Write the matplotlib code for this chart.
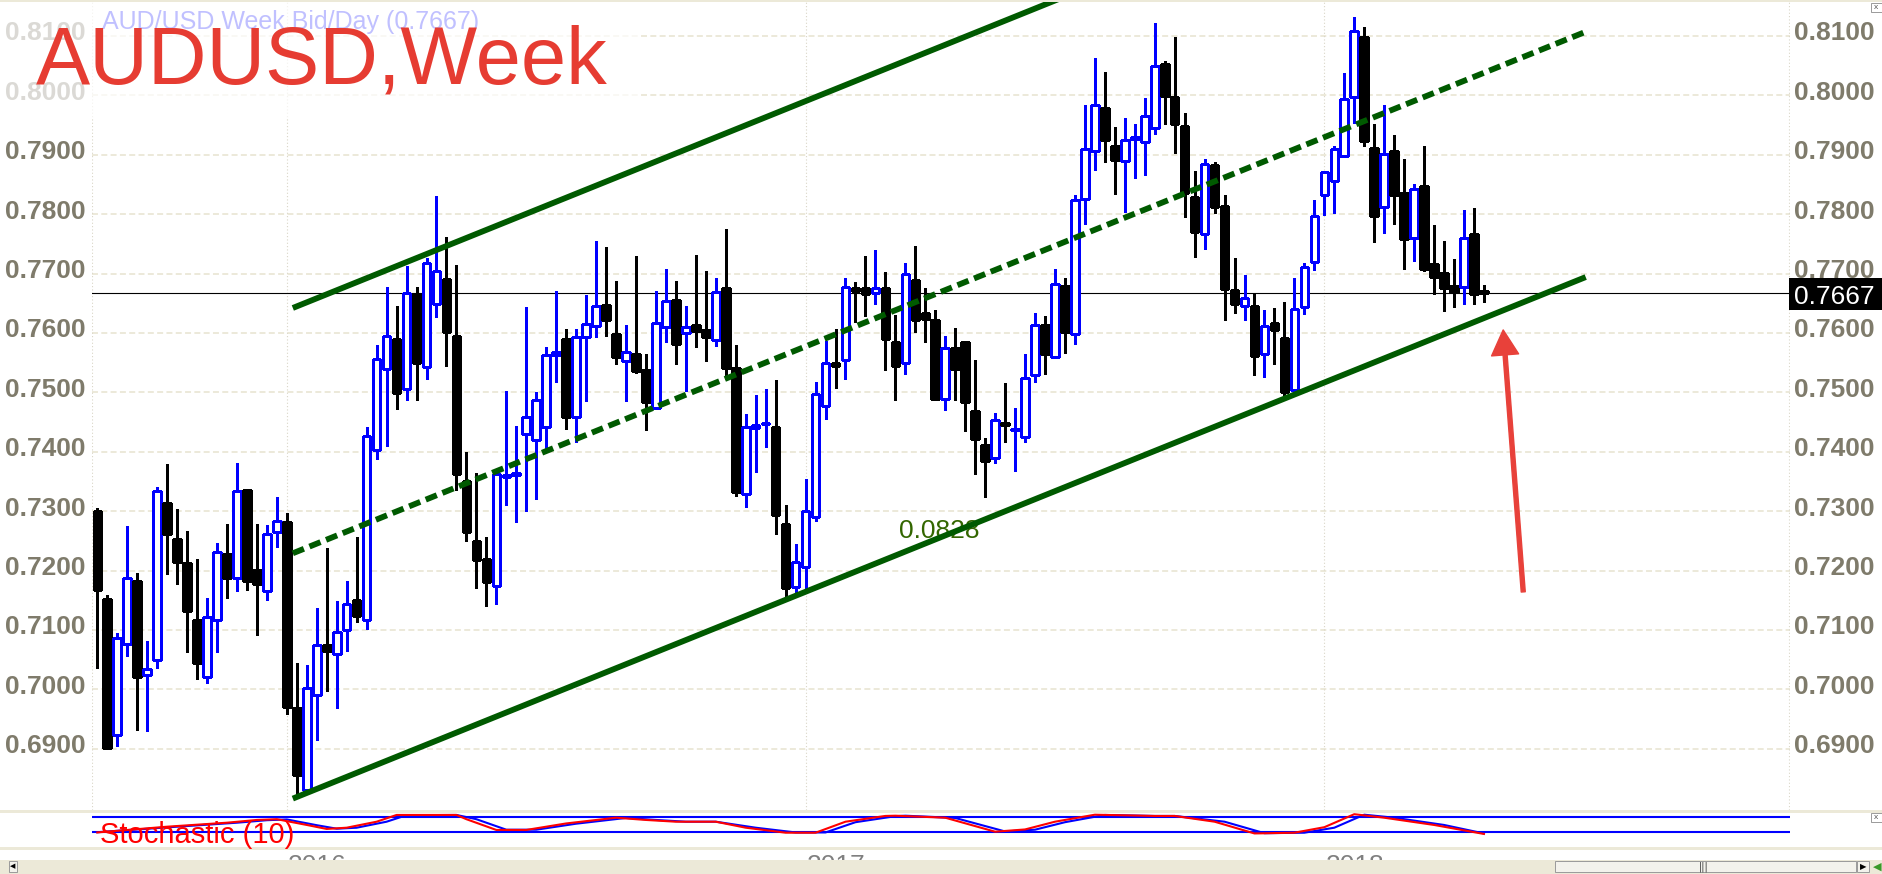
import matplotlib
matplotlib.use('Agg')
import matplotlib.pyplot as plt
import matplotlib.transforms as mtransforms
from matplotlib.patches import Rectangle

plt.rcParams['font.family'] = ['Liberation Sans', 'DejaVu Sans']
plt.rcParams['lines.scale_dashes'] = False

W, H, DPI = 1883, 874, 100

# weekly AUD/USD candles, Aug 2015 .. Apr 2018
opens = [
    0.7301, 0.7152, 0.6923, 0.7076, 0.7182, 0.7024, 0.7049, 0.7314, 0.7253, 0.7213,
    0.7117, 0.7020, 0.7117, 0.7228, 0.7187, 0.7336, 0.7201, 0.7165, 0.7265, 0.7282,
    0.6969, 0.6831, 0.6990, 0.7074, 0.7060, 0.7100, 0.7150, 0.7117, 0.7403, 0.7540,
    0.7589, 0.7506, 0.7665, 0.7543, 0.7649, 0.7690, 0.7594, 0.7351, 0.7249, 0.7220,
    0.7174, 0.7357, 0.7360, 0.7430, 0.7420, 0.7441, 0.7563, 0.7589, 0.7458, 0.7593,
    0.7612, 0.7647, 0.7599, 0.7553, 0.7565, 0.7537, 0.7474, 0.7610, 0.7656, 0.7600,
    0.7614, 0.7605, 0.7588, 0.7675, 0.7541, 0.7329, 0.7440, 0.7446, 0.7441, 0.7279,
    0.7173, 0.7206, 0.7290, 0.7477, 0.7550, 0.7554, 0.7676, 0.7676, 0.7667, 0.7676,
    0.7584, 0.7549, 0.7689, 0.7634, 0.7622, 0.7489, 0.7574, 0.7584, 0.7468, 0.7411,
    0.7389, 0.7449, 0.7437, 0.7425, 0.7529, 0.7614, 0.7560, 0.7679, 0.7599, 0.7825,
    0.7907, 0.7979, 0.7915, 0.7890, 0.7927, 0.7921, 0.7945, 0.8053, 0.7997, 0.7949,
    0.7829, 0.7767, 0.7882, 0.7814, 0.7673, 0.7646, 0.7646, 0.7564, 0.7616, 0.7591,
    0.7504, 0.7644, 0.7720, 0.7833, 0.7856, 0.7898, 0.7997, 0.8099, 0.7911, 0.7812,
    0.7907, 0.7836, 0.7760, 0.7847, 0.7716, 0.7701, 0.7679, 0.7678, 0.7767, 0.7670]
highs = [
    0.7306, 0.7159, 0.7095, 0.7275, 0.7195, 0.7082, 0.7341, 0.7379, 0.7304, 0.7267,
    0.7220, 0.7154, 0.7246, 0.7279, 0.7381, 0.7338, 0.7279, 0.7276, 0.7324, 0.7297,
    0.7045, 0.7041, 0.7137, 0.7238, 0.7148, 0.7182, 0.7256, 0.7441, 0.7579, 0.7677,
    0.7645, 0.7712, 0.7677, 0.7726, 0.7831, 0.7762, 0.7715, 0.7400, 0.7364, 0.7257,
    0.7363, 0.7502, 0.7443, 0.7643, 0.7500, 0.7577, 0.7671, 0.7606, 0.7606, 0.7663,
    0.7754, 0.7745, 0.7688, 0.7613, 0.7729, 0.7565, 0.7671, 0.7708, 0.7688, 0.7645,
    0.7732, 0.7705, 0.7693, 0.7775, 0.7579, 0.7464, 0.7495, 0.7505, 0.7521, 0.7310,
    0.7244, 0.7354, 0.7517, 0.7586, 0.7606, 0.7693, 0.7686, 0.7729, 0.7739, 0.7703,
    0.7630, 0.7717, 0.7747, 0.7676, 0.7638, 0.7594, 0.7608, 0.7584, 0.7554, 0.7423,
    0.7465, 0.7515, 0.7473, 0.7564, 0.7633, 0.7628, 0.7708, 0.7693, 0.7833, 0.7983,
    0.8063, 0.8040, 0.7946, 0.7962, 0.7952, 0.7995, 0.8122, 0.8057, 0.8099, 0.7970,
    0.7873, 0.7893, 0.7887, 0.7833, 0.7726, 0.7697, 0.7665, 0.7638, 0.7642, 0.7652,
    0.7692, 0.7717, 0.7823, 0.7871, 0.7914, 0.8037, 0.8132, 0.8115, 0.7952, 0.7984,
    0.7933, 0.7892, 0.7850, 0.7914, 0.7782, 0.7755, 0.7724, 0.7807, 0.7810, 0.7681]
lows = [
    0.7036, 0.6902, 0.6905, 0.7056, 0.6932, 0.6930, 0.7036, 0.7194, 0.7177, 0.7062,
    0.7017, 0.7010, 0.7063, 0.7153, 0.7165, 0.7168, 0.7091, 0.7150, 0.7239, 0.6958,
    0.6822, 0.6826, 0.6914, 0.6997, 0.6968, 0.7065, 0.7113, 0.7102, 0.7387, 0.7409,
    0.7472, 0.7487, 0.7487, 0.7522, 0.7626, 0.7544, 0.7335, 0.7249, 0.7171, 0.7141,
    0.7144, 0.7311, 0.7281, 0.7301, 0.7320, 0.7403, 0.7517, 0.7438, 0.7416, 0.7485,
    0.7593, 0.7595, 0.7548, 0.7485, 0.7532, 0.7436, 0.7472, 0.7585, 0.7547, 0.7502,
    0.7576, 0.7553, 0.7578, 0.7523, 0.7325, 0.7307, 0.7366, 0.7408, 0.7262, 0.7156,
    0.7162, 0.7165, 0.7283, 0.7455, 0.7508, 0.7522, 0.7618, 0.7628, 0.7648, 0.7538,
    0.7487, 0.7530, 0.7601, 0.7584, 0.7488, 0.7470, 0.7487, 0.7435, 0.7363, 0.7324,
    0.7381, 0.7417, 0.7367, 0.7417, 0.7517, 0.7531, 0.7559, 0.7566, 0.7582, 0.7783,
    0.7874, 0.7888, 0.7834, 0.7804, 0.7860, 0.7866, 0.7935, 0.7951, 0.7903, 0.7795,
    0.7728, 0.7742, 0.7802, 0.7621, 0.7633, 0.7622, 0.7529, 0.7526, 0.7547, 0.7495,
    0.7498, 0.7632, 0.7706, 0.7799, 0.7802, 0.7898, 0.7953, 0.7914, 0.7753, 0.7768,
    0.7784, 0.7707, 0.7721, 0.7704, 0.7666, 0.7637, 0.7643, 0.7648, 0.7649, 0.7652]
closes = [
    0.7168, 0.6902, 0.7086, 0.7187, 0.7020, 0.7034, 0.7334, 0.7261, 0.7214, 0.7131,
    0.7044, 0.7122, 0.7231, 0.7187, 0.7334, 0.7182, 0.7177, 0.7261, 0.7283, 0.6970,
    0.6855, 0.7002, 0.7074, 0.7065, 0.7097, 0.7143, 0.7124, 0.7426, 0.7556, 0.7594,
    0.7499, 0.7668, 0.7549, 0.7718, 0.7704, 0.7601, 0.7362, 0.7265, 0.7218, 0.7180,
    0.7363, 0.7360, 0.7364, 0.7459, 0.7487, 0.7563, 0.7568, 0.7458, 0.7593, 0.7615,
    0.7646, 0.7622, 0.7559, 0.7568, 0.7536, 0.7483, 0.7617, 0.7654, 0.7581, 0.7610,
    0.7604, 0.7593, 0.7669, 0.7541, 0.7332, 0.7442, 0.7445, 0.7448, 0.7293, 0.7171,
    0.7214, 0.7300, 0.7497, 0.7549, 0.7545, 0.7678, 0.7671, 0.7665, 0.7675, 0.7590,
    0.7544, 0.7700, 0.7621, 0.7624, 0.7489, 0.7575, 0.7540, 0.7484, 0.7421, 0.7384,
    0.7454, 0.7445, 0.7439, 0.7524, 0.7614, 0.7564, 0.7683, 0.7601, 0.7824, 0.7910,
    0.7984, 0.7924, 0.7891, 0.7924, 0.7930, 0.7966, 0.8049, 0.7999, 0.7952, 0.7835,
    0.7770, 0.7884, 0.7812, 0.7674, 0.7648, 0.7659, 0.7561, 0.7612, 0.7605, 0.7500,
    0.7640, 0.7711, 0.7797, 0.7871, 0.7910, 0.7993, 0.8109, 0.7923, 0.7797, 0.7901,
    0.7832, 0.7758, 0.7843, 0.7707, 0.7694, 0.7676, 0.7669, 0.7760, 0.7666, 0.7667]

# stochastic (10): %K (red) and %D (blue), read at week positions
sto_k_x = [0, 7, 13, 16, 18, 21, 23, 25, 28, 30, 36, 37, 40, 43, 47, 52, 55, 58, 62, 65,
           69, 72, 75, 79, 80, 85, 90, 93, 96, 100, 106, 108, 112, 116, 120, 123, 126, 129, 134, 139]
sto_k = [17, 40, 56, 67, 70, 47, 31, 36, 60, 87, 87, 70, 27, 27, 53, 76, 67, 60, 60, 36,
         16, 16, 60, 83, 84, 76, 20, 29, 60, 88, 83, 83, 60, 13, 16, 38, 90, 76, 47, 11]
sto_d_x = [0, 8, 14, 17, 19, 22, 24, 26, 29, 31, 36, 38, 41, 44, 48, 53, 56, 59, 62, 66,
           70, 73, 76, 80, 81, 86, 91, 94, 97, 101, 106, 108, 113, 117, 121, 124, 127, 130, 135, 139]
sto_d = [18, 40, 56, 66, 69, 46, 32, 36, 60, 86, 87, 70, 28, 28, 52, 75, 67, 60, 60, 36,
         17, 17, 58, 82, 84, 75, 21, 28, 58, 87, 83, 83, 60, 14, 16, 36, 88, 76, 47, 13]
sto_levels = [80, 20]

# price axis
price_levels = [0.69, 0.70, 0.71, 0.72, 0.73, 0.74, 0.75, 0.76, 0.77, 0.78, 0.79, 0.80, 0.81]
price_labels = ['0.6900', '0.7000', '0.7100', '0.7200', '0.7300', '0.7400', '0.7500',
                '0.7600', '0.7700', '0.7800', '0.7900', '0.8000', '0.8100']
last_price = 0.7667

# year separators (week index) and labels
year_idx = [19, 71, 123]
year_labels = ['2016', '2017', '2018']

# hand-drawn channel: [start week, end week] and prices at both ends
chan_x = [19.6, 149.2]
chan_lower = [0.6816, 0.7694]
chan_mid = [0.7229, 0.8107]
chan_upper = [0.7642, 0.8520]
chan_label = '0.0828'
chan_label_pos = (80.4, 0.7254)

# red arrow: tail -> tip
arrow_tail = (142.94, 0.7164)
arrow_tip = (140.93, 0.7605)


def fx(px):
    return px / W


def fy(py):
    return 1 - py / H


fig = plt.figure(figsize=(W / DPI, H / DPI), dpi=DPI, facecolor='white')

PL, PR = 92, 1790
ax = fig.add_axes([fx(PL), fy(810), fx(PR - PL), 808 / H])
ax.set_xlim(-0.531, 169.68)
ax.set_ylim(0.67968, 0.81571)
ax.set_axis_off()

GRID = '#e9e5d3'
DOTS = '#d9d5c6'
GREEN = '#005a00'
LABEL = '#7f7b6b'

ax.hlines(price_levels, -0.531, 169.68, colors=GRID, linestyles=(0, (4.3, 2.4)), lw=1.2, zorder=1)
ax.vlines(year_idx + [-0.531, 169.6], 0.67968, 0.81571, colors=DOTS,
          linestyles=(0, (0.8, 1.6)), lw=0.8, zorder=1)
ax.axhline(last_price, color='black', lw=0.8, zorder=2)

# candles
n = len(opens)
xs = list(range(n))
up = [c >= o for o, c in zip(opens, closes)]
edge = ['#0000ff' if u else 'black' for u in up]
face = ['white' if u else 'black' for u in up]
bottoms = [min(o, c) for o, c in zip(opens, closes)]
heights = [abs(c - o) for o, c in zip(opens, closes)]
ax.vlines(xs, lows, highs, colors=edge, lw=0.8, zorder=3, antialiased=False)
ax.bar(xs, heights, bottom=bottoms, width=0.76, color=face, edgecolor=edge,
       linewidth=0.8, zorder=4, antialiased=False)

# channel
ax.text(chan_label_pos[0], chan_label_pos[1], chan_label, fontsize=19, color='#336600',
        ha='left', va='baseline', zorder=4)
ax.plot(chan_x, chan_lower, color=GREEN, lw=4.2, solid_capstyle='butt', zorder=5)
ax.plot(chan_x, chan_upper, color=GREEN, lw=4.2, solid_capstyle='butt', zorder=5)
ax.plot(chan_x, chan_mid, color=GREEN, lw=4.2, linestyle=(0, (8.6, 4.3)),
        dash_capstyle='butt', zorder=5)

ax.annotate('', xy=arrow_tip, xytext=arrow_tail, annotation_clip=False,
            arrowprops=dict(facecolor='#e8413a', edgecolor='#e8413a', width=2.9,
                            headwidth=19.5, headlength=18, shrink=0))

# price labels both sides
lab_tr = mtransforms.blended_transform_factory(fig.transFigure, ax.transData) + \
    mtransforms.ScaledTranslation(0, -4.5 / DPI, fig.dpi_scale_trans)
for p, s in zip(price_levels, price_labels):
    ax.text(fx(1794), p, s, transform=lab_tr, ha='left', va='baseline', fontsize=19,
            fontweight='bold', color=LABEL, clip_on=False)
    ax.text(fx(5), p, s, transform=lab_tr, ha='left', va='baseline', fontsize=19,
            fontweight='bold', color=LABEL, clip_on=False)

ax.text(fx(102), fy(29), 'AUD/USD Week Bid/Day (0.7667)', transform=fig.transFigure,
        fontsize=18, color='#2020ff', ha='left', va='baseline', clip_on=False)

# last price box
fig.add_artist(Rectangle((fx(1789), fy(310)), fx(93), 32 / H, transform=fig.transFigure,
                         facecolor='black', edgecolor='none', zorder=1))
fig.text(fx(1794), fy(303.5), '0.7667', color='white', fontsize=19, ha='left',
         va='baseline', zorder=4)

# faded box behind the big title
fig.add_artist(Rectangle((0, fy(118)), fx(640), 118 / H, transform=fig.transFigure,
                         facecolor='white', edgecolor='none', alpha=0.72, zorder=1))
fig.text(fx(36), fy(84), 'AUDUSD,Week', fontsize=58.5, color='#e63c32', ha='left',
         va='baseline', zorder=4)

# stochastic panel
ax2 = fig.add_axes([fx(PL), fy(847), fx(PR - PL), 36 / H])
ax2.set_xlim(-0.531, 169.68)
ax2.set_ylim(-41.2, 102.8)
ax2.set_axis_off()
for lv in sto_levels:
    ax2.axhline(lv, color='#0000ff', lw=1.5, zorder=2)
ax2.plot(sto_d_x, sto_d, color='#0000ff', lw=1.5, zorder=3)
ax2.plot(sto_k_x, sto_k, color='#ff0000', lw=1.5, zorder=4)
fig.text(fx(100), fy(843), 'Stochastic (10)', color='#ff0000', fontsize=21, ha='left',
         va='baseline', zorder=4)

# panel separators / window chrome
for y0, h in [(0, 2), (810, 2.5), (847, 2.5)]:
    fig.add_artist(Rectangle((0, fy(y0 + h)), 1, h / H, transform=fig.transFigure,
                             facecolor='#ece9d8', edgecolor='none', zorder=2))

# year labels, cut by the scroll bar
for yi, yl in zip(year_idx, year_labels):
    xpix = 97.3 + yi * 9.976
    fig.text(fx(xpix + 1), fy(873), yl, color='#808080', fontsize=19, ha='left',
             va='baseline', zorder=2)

fig.add_artist(Rectangle((0, 0), 1, 14 / H, transform=fig.transFigure,
                         facecolor='#ece9d8', edgecolor='none', zorder=2.5))
fig.add_artist(Rectangle((fx(1555), fy(872)), fx(301), 11 / H, transform=fig.transFigure,
                         facecolor='#f3f2ec', edgecolor='#9a9a9a', lw=0.7, zorder=3))
fig.text(fx(1704), fy(866.5), '|||', fontsize=7, color='#333333', ha='center',
         va='center', zorder=4, family='DejaVu Sans')
fig.add_artist(Rectangle((fx(1857), fy(872)), fx(12), 11 / H, transform=fig.transFigure,
                         facecolor='#f3f2ec', edgecolor='#9a9a9a', lw=0.7, zorder=3))
fig.text(fx(1863), fy(866.5), '\u25b6', fontsize=6, color='black', ha='center',
         va='center', zorder=4, family='DejaVu Sans')
fig.text(fx(1877), fy(866.5), '\u25c0', fontsize=8, color='#3a9a2a', ha='center',
         va='center', zorder=4, family='DejaVu Sans')
fig.add_artist(Rectangle((fx(9), fy(872)), fx(8), 11 / H, transform=fig.transFigure,
                         facecolor='#f3f2ec', edgecolor='#9a9a9a', lw=0.7, zorder=3))
fig.text(fx(13), fy(866.5), '\u25c0', fontsize=5, color='black', ha='center',
         va='center', zorder=4, family='DejaVu Sans')

for yb in [3, 813]:
    fig.add_artist(Rectangle((fx(1871), fy(yb + 9)), fx(11), 9 / H, transform=fig.transFigure,
                             facecolor='white', edgecolor='#8a8a8a', lw=0.6, zorder=3))
    fig.text(fx(1876.5), fy(yb + 4.5), 'x', fontsize=6, color='#555555', ha='center',
             va='center', zorder=4)

fig.savefig('out.png', dpi=DPI, facecolor='white')
